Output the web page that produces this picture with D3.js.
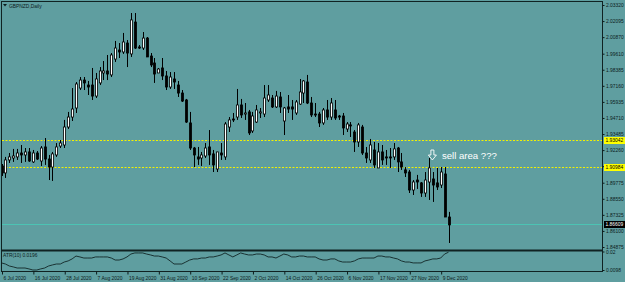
<!DOCTYPE html>
<html lang="en">
<head>
<meta charset="UTF-8">
<title>GBPNZD,Daily</title>
<script src="https://d3js.org/d3.v7.min.js"></script>
<style>
  html, body { margin: 0; padding: 0; background: #5f9ea0; overflow: hidden; }
  svg { display: block; font-family: "Liberation Sans", Arial, sans-serif; }
  .axis text { font-size: 4.9px; fill: #0c1c1c; }
  .axis line { stroke: #0c1c1c; }
</style>
</head>
<body>
<svg id="chart"></svg>
<script>
const width = 625;
const height = 282;

// daily bars, 6 Jul 2020 .. 11 Dec 2020
const opens = [
  1.9105,1.9052,1.9151,1.9166,1.9174,1.9204,1.9189,1.9212,1.9136,1.9204,
  1.9143,1.9250,1.9158,1.9097,1.9189,1.9257,1.9265,1.9402,1.9478,1.9547,
  1.9699,1.9760,1.9722,1.9722,1.9638,1.9738,1.9814,1.9829,1.9799,1.9920,
  1.9989,1.9974,2.0042,1.9959,2.0202,2.0012,2.0004,2.0080,1.9943,1.9890,
  1.9814,1.9852,1.9791,1.9707,1.9768,1.9722,1.9661,1.9608,1.9433,1.9242,
  1.9174,1.9166,1.9181,1.9250,1.9197,1.9082,1.9204,1.9174,1.9402,1.9463,
  1.9478,1.9570,1.9501,1.9517,1.9372,1.9440,1.9509,1.9501,1.9608,1.9623,
  1.9555,1.9631,1.9448,1.9555,1.9555,1.9509,1.9577,1.9661,1.9745,1.9585,
  1.9501,1.9501,1.9433,1.9532,1.9478,1.9532,1.9486,1.9486,1.9387,1.9418,
  1.9364,1.9288,1.9402,1.9204,1.9151,1.9227,1.9090,1.9212,1.9174,1.9174,
  1.9174,1.9242,1.9136,1.9075,1.9059,1.8922,1.8998,1.8976,1.8899,1.8983,
  1.9006,1.8976,1.8960,1.9044,1.8716
];
const highs = [
  1.9120,1.9174,1.9204,1.9235,1.9235,1.9265,1.9242,1.9242,1.9227,1.9219,
  1.9257,1.9318,1.9189,1.9212,1.9280,1.9303,1.9456,1.9517,1.9699,1.9745,
  1.9783,1.9783,1.9753,1.9852,1.9814,1.9859,1.9905,1.9951,1.9966,2.0058,
  2.0042,2.0119,2.0065,2.0271,2.0271,2.0027,2.0126,2.0088,1.9966,1.9928,
  1.9852,1.9928,1.9829,1.9821,1.9821,1.9753,1.9684,1.9616,1.9517,1.9250,
  1.9250,1.9212,1.9280,1.9379,1.9227,1.9212,1.9280,1.9440,1.9478,1.9509,
  1.9692,1.9616,1.9585,1.9532,1.9517,1.9570,1.9547,1.9722,1.9722,1.9646,
  1.9677,1.9669,1.9555,1.9646,1.9608,1.9608,1.9768,1.9760,1.9799,1.9631,
  1.9585,1.9517,1.9547,1.9608,1.9623,1.9608,1.9494,1.9509,1.9440,1.9440,
  1.9379,1.9433,1.9418,1.9250,1.9311,1.9288,1.9280,1.9265,1.9227,1.9242,
  1.9280,1.9250,1.9204,1.9097,1.9075,1.8998,1.9037,1.8983,1.9059,1.9166,
  1.9059,1.9090,1.9097,1.9097,1.8755
];
const lows = [
  1.9029,1.9014,1.9128,1.9136,1.9151,1.9128,1.9136,1.9136,1.9128,1.9151,
  1.9105,1.9113,1.8998,1.8991,1.9174,1.9242,1.9242,1.9387,1.9448,1.9509,
  1.9684,1.9684,1.9646,1.9608,1.9623,1.9722,1.9760,1.9760,1.9783,1.9898,
  1.9928,1.9959,1.9859,1.9936,1.9997,1.9997,1.9989,1.9936,1.9859,1.9738,
  1.9814,1.9760,1.9684,1.9692,1.9692,1.9631,1.9593,1.9433,1.9227,1.9097,
  1.9113,1.9105,1.9166,1.9113,1.9059,1.9059,1.9151,1.9151,1.9364,1.9440,
  1.9456,1.9471,1.9456,1.9341,1.9357,1.9433,1.9471,1.9478,1.9593,1.9547,
  1.9547,1.9509,1.9341,1.9509,1.9456,1.9494,1.9570,1.9585,1.9577,1.9478,
  1.9478,1.9402,1.9418,1.9456,1.9456,1.9456,1.9456,1.9341,1.9364,1.9326,
  1.9212,1.9250,1.9189,1.9128,1.9128,1.9090,1.9090,1.9113,1.9113,1.9090,
  1.9151,1.9059,1.9075,1.9021,1.8899,1.8884,1.8930,1.8869,1.8869,1.8846,
  1.8831,1.8922,1.8937,1.8716,1.8518
];
const closes = [
  1.9052,1.9151,1.9174,1.9181,1.9204,1.9189,1.9212,1.9143,1.9204,1.9158,
  1.9242,1.9158,1.9097,1.9197,1.9250,1.9280,1.9402,1.9478,1.9539,1.9730,
  1.9760,1.9738,1.9707,1.9638,1.9768,1.9829,1.9829,1.9806,1.9951,2.0004,
  1.9974,2.0050,1.9966,2.0218,2.0004,2.0004,2.0080,1.9936,1.9875,1.9806,
  1.9844,1.9791,1.9707,1.9783,1.9745,1.9661,1.9600,1.9440,1.9242,1.9189,
  1.9158,1.9189,1.9242,1.9189,1.9113,1.9212,1.9189,1.9425,1.9456,1.9456,
  1.9570,1.9494,1.9509,1.9357,1.9486,1.9532,1.9517,1.9623,1.9646,1.9555,
  1.9638,1.9555,1.9547,1.9539,1.9539,1.9593,1.9669,1.9753,1.9585,1.9494,
  1.9494,1.9433,1.9532,1.9478,1.9585,1.9471,1.9478,1.9395,1.9425,1.9410,
  1.9288,1.9418,1.9204,1.9166,1.9265,1.9113,1.9212,1.9151,1.9166,1.9166,
  1.9235,1.9136,1.9097,1.9052,1.8922,1.8983,1.8983,1.8899,1.8998,1.9090,
  1.8960,1.8945,1.9059,1.8716,1.8656
];

// ATR(10) sub window, one value per bar
const atr = [
  0.0137,0.0131,0.0120,0.0115,0.0109,0.0109,0.0109,0.0104,0.0098,0.0098,
  0.0104,0.0109,0.0120,0.0126,0.0131,0.0131,0.0142,0.0148,0.0159,0.0175,
  0.0170,0.0164,0.0164,0.0164,0.0170,0.0170,0.0170,0.0170,0.0164,0.0153,
  0.0153,0.0159,0.0170,0.0186,0.0192,0.0192,0.0192,0.0186,0.0181,0.0175,
  0.0175,0.0170,0.0164,0.0148,0.0131,0.0131,0.0131,0.0142,0.0153,0.0159,
  0.0159,0.0164,0.0164,0.0170,0.0170,0.0175,0.0181,0.0192,0.0181,0.0170,
  0.0181,0.0192,0.0186,0.0181,0.0181,0.0186,0.0186,0.0181,0.0170,0.0170,
  0.0164,0.0175,0.0186,0.0181,0.0170,0.0170,0.0175,0.0175,0.0170,0.0170,
  0.0170,0.0159,0.0153,0.0153,0.0159,0.0159,0.0148,0.0142,0.0142,0.0142,
  0.0148,0.0159,0.0164,0.0164,0.0164,0.0164,0.0175,0.0175,0.0170,0.0170,
  0.0164,0.0159,0.0148,0.0142,0.0142,0.0137,0.0137,0.0137,0.0148,0.0153,
  0.0159,0.0159,0.0164,0.0186,0.0196
];

const priceTicks = [2.03320, 2.02095, 2.00870, 1.99610, 1.98385, 1.97160, 1.95935, 1.94710,
  1.93485, 1.92260, 1.91035, 1.89775, 1.88550, 1.87325, 1.86100, 1.84875];
const atrTicks = [0.02, 0.0098];
const atrTickLabels = ['0.02', '0.0098'];
const dateTickIdx = [0, 8, 16, 24, 32, 40, 48, 56, 64, 72, 80, 88, 96, 104, 112];
const dateTickLabels = ['6 Jul 2020', '16 Jul 2020', '28 Jul 2020', '7 Aug 2020', '19 Aug 2020',
  '31 Aug 2020', '10 Sep 2020', '22 Sep 2020', '2 Oct 2020', '14 Oct 2020', '26 Oct 2020',
  '6 Nov 2020', '17 Nov 2020', '27 Nov 2020', '9 Dec 2020'];
const levels = [1.93042, 1.90984];   // yellow dashed lines
const bidPrice = 1.86609;

const ink = '#0c1c1c';

const svg = d3.select('#chart')
  .attr('width', width)
  .attr('height', height);

svg.append('rect').attr('width', width).attr('height', height).attr('fill', '#5f9ea0');

const x = d3.scaleLinear().domain([0, opens.length - 1]).range([1.5, 448.5]);
const y = d3.scaleLinear().domain([1.84875, 2.03320]).range([247, 5]);
const yAtr = d3.scaleLinear().domain([0.0098, 0.0200]).range([270, 251.5]);

svg.append('clipPath').attr('id', 'main-clip')
  .append('rect').attr('x', 2).attr('y', 2).attr('width', 600).attr('height', 248);
svg.append('clipPath').attr('id', 'sub-clip')
  .append('rect').attr('x', 2).attr('y', 251).attr('width', 600).attr('height', 20);

const main = svg.append('g').attr('clip-path', 'url(#main-clip)');

// bid line
main.append('line')
  .attr('x1', 2).attr('x2', 602)
  .attr('y1', Math.round(y(bidPrice)) + 0.5).attr('y2', Math.round(y(bidPrice)) + 0.5)
  .attr('stroke', '#4cc3b3').attr('stroke-width', 1);

// horizontal levels
main.selectAll('.level')
  .data(levels)
  .enter().append('line')
  .attr('class', 'level')
  .attr('x1', 2).attr('x2', 602)
  .attr('y1', d => Math.round(y(d)) + 0.5).attr('y2', d => Math.round(y(d)) + 0.5)
  .attr('stroke', '#f2f200').attr('stroke-width', 1)
  .attr('stroke-dasharray', '2,1.5');

// candles
const idx = d3.range(opens.length);
const cx = i => Math.round(x(i)) + 0.5;

main.selectAll('.wick')
  .data(idx)
  .enter().append('line')
  .attr('class', 'wick')
  .attr('x1', cx).attr('x2', cx)
  .attr('y1', i => y(highs[i])).attr('y2', i => y(lows[i]))
  .attr('stroke', '#000').attr('stroke-width', 1);

main.selectAll('.body')
  .data(idx)
  .enter().append('rect')
  .attr('class', 'body')
  .attr('x', i => cx(i) - 1)
  .attr('width', 2)
  .attr('y', i => y(Math.max(opens[i], closes[i])))
  .attr('height', i => Math.max(1, Math.abs(y(opens[i]) - y(closes[i]))))
  .attr('fill', i => closes[i] >= opens[i] ? '#fff' : '#000')
  .attr('stroke', '#000').attr('stroke-width', 0.8);

// annotation
const ax = x(109) + 3.5;
const ay = 156;
main.append('path')
  .attr('d', `M${ax - 1.5},${ay - 6} h3 v5 h2.5 l-4,5 l-4,-5 h2.5 z`)
  .attr('fill', 'none').attr('stroke', '#fff').attr('stroke-width', 0.9);
main.append('text')
  .attr('x', ax + 9.5).attr('y', ay + 3.3)
  .attr('fill', '#fff').attr('font-size', '9.6px')
  .text('sell area ???');

// ATR sub window
svg.append('path')
  .datum(atr)
  .attr('clip-path', 'url(#sub-clip)')
  .attr('fill', 'none')
  .attr('stroke', '#122626').attr('stroke-width', 0.9)
  .attr('d', d3.line().x((d, i) => x(i)).y(d => yAtr(d)));

svg.append('text')
  .attr('x', 3).attr('y', 257)
  .attr('font-size', '4.9px').attr('fill', ink)
  .text('ATR(10) ' + atr[atr.length - 1].toFixed(4));

// frame
const frame = svg.append('g').attr('stroke', '#102222').attr('fill', 'none');
frame.append('line').attr('x1', 1.5).attr('x2', 1.5).attr('y1', 1).attr('y2', 272);
frame.append('line').attr('x1', 1).attr('x2', 603).attr('y1', 1.5).attr('y2', 1.5);
frame.append('line').attr('x1', 602.5).attr('x2', 602.5).attr('y1', 1).attr('y2', 272);
frame.append('line').attr('x1', 1).attr('x2', 603).attr('y1', 250.5).attr('y2', 250.5).attr('stroke-width', 2);
frame.append('line').attr('x1', 1).attr('x2', 603).attr('y1', 271.5).attr('y2', 271.5);

// title
svg.append('path').attr('d', 'M3,4 h4 l-2,2.5 z').attr('fill', ink);
svg.append('text')
  .attr('x', 9).attr('y', 7.5)
  .attr('font-size', '4.9px').attr('fill', ink)
  .text('GBPNZD,Daily');

// price axis
const yAxis = svg.append('g')
  .attr('class', 'axis')
  .attr('transform', 'translate(602.5,0)')
  .call(d3.axisRight(y).tickValues(priceTicks).tickSize(2).tickPadding(1.5)
    .tickFormat(d3.format('.5f')));
yAxis.select('.domain').remove();

const atrAxis = svg.append('g')
  .attr('class', 'axis')
  .attr('transform', 'translate(602.5,0)')
  .call(d3.axisRight(yAtr).tickValues(atrTicks).tickSize(2).tickPadding(1.5)
    .tickFormat((d, i) => atrTickLabels[i]));
atrAxis.select('.domain').remove();

// price labels on the right edge
const priceTags = [
  { v: levels[0], bg: '#ffff00', fg: '#000' },
  { v: levels[1], bg: '#ffff00', fg: '#000' },
  { v: bidPrice, bg: '#000', fg: '#fff' }
];
const tags = svg.selectAll('.tag').data(priceTags).enter().append('g').attr('class', 'tag')
  .attr('transform', d => `translate(603,${Math.round(y(d.v)) + 0.5})`);
tags.append('rect').attr('x', 1).attr('y', -3.5).attr('width', 21).attr('height', 7)
  .attr('fill', d => d.bg);
tags.append('text').attr('x', 2.5).attr('y', 1.8)
  .attr('font-size', '4.9px').attr('fill', d => d.fg)
  .text(d => d.v.toFixed(5));

// date axis
const xAxis = svg.append('g')
  .attr('class', 'axis')
  .attr('transform', 'translate(0,271.5)')
  .call(d3.axisBottom(x).tickValues(dateTickIdx).tickSize(3).tickPadding(3)
    .tickFormat((d, i) => dateTickLabels[i]));
xAxis.select('.domain').remove();
xAxis.selectAll('.tick line').attr('transform', 'translate(0.5,0)');
xAxis.selectAll('.tick text').attr('text-anchor', 'start').attr('dx', 1.5).attr('dy', '0.55em');
</script>
</body>
</html>
